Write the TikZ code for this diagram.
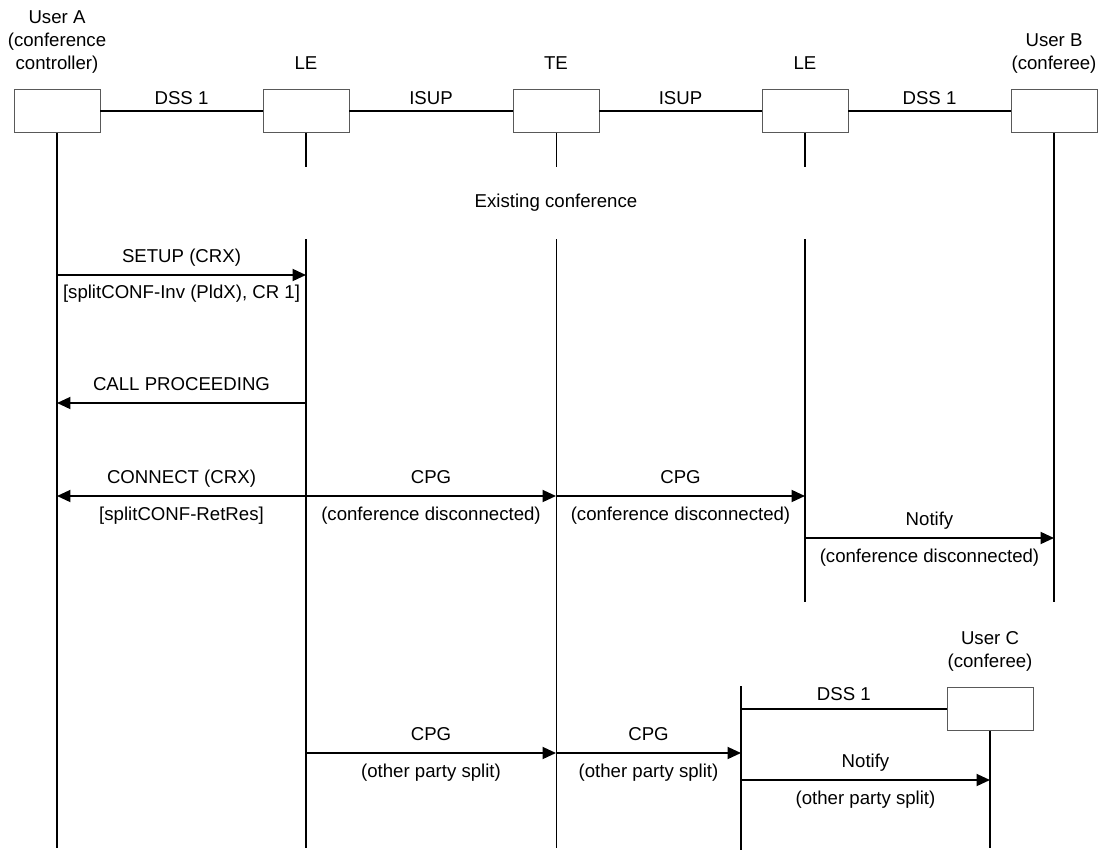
\documentclass[tikz,border=0pt]{standalone}
\usepackage{fontspec}
\setmainfont{Liberation Sans}
\usetikzlibrary{arrows.meta, positioning, calc}

\begin{document}
\begin{tikzpicture}[
    x=0.02cm, y=-0.02cm,
    >={Triangle[length=0.27cm, width=0.24cm]},
    font=\fontsize{10.6}{13}\selectfont
]

% ---------------------------------------------------------
% Styles
% ---------------------------------------------------------
\tikzset{
    party_box/.style={
        rectangle, draw=black!65, line width=0.5pt, fill=white,
        minimum width=1.72cm, minimum height=0.86cm
    },
    party_label/.style={anchor=south, inner sep=0pt, text depth=0pt, align=center},
    link/.style={line width=1.1pt},
    link_label/.style={midway, anchor=base, inner sep=0pt, yshift=#1},
    link_label/.default=0.14cm,
    lifeline/.style={line width=1.1pt},
    thin_lifeline/.style={line width=0.55pt},
    msg/.style={->, line width=1.1pt},
    msg_top/.style={midway, anchor=base, inner sep=0pt, yshift=0.25cm},
    msg_bot/.style={midway, anchor=base, inner sep=0pt, yshift=-0.48cm}
}

\useasboundingbox (0,0) rectangle (1102,855);

% ---------------------------------------------------------
% Parties
% ---------------------------------------------------------
\node[party_box] (UserA) at (57, 111) {};
\node[party_box] (LEa)   at (306, 111) {};
\node[party_box] (TE)    at (556, 111) {};
\node[party_box] (LEb)   at (805, 111) {};
\node[party_box] (UserB) at (1054, 111) {};

\node[party_label, above=0.39cm of UserA] {User A\\(conference\\controller)};
\node[party_label, above=0.39cm of LEa]   {LE};
\node[party_label, above=0.39cm of TE]    {TE};
\node[party_label, above=0.39cm of LEb]   {LE};
\node[party_label, above=0.39cm of UserB] {User B\\(conferee)};

\draw[link] (UserA) -- (LEa) node[link_label] {DSS 1};
\draw[link] (LEa) -- (TE)    node[link_label] {ISUP};
\draw[link] (TE) -- (LEb)    node[link_label] {ISUP};
\draw[link] (LEb) -- (UserB) node[link_label] {DSS 1};

% ---------------------------------------------------------
% Lifelines
% ---------------------------------------------------------
\coordinate (GapTop) at (0, 167);
\coordinate (GapBot) at (0, 239);
\coordinate (EndB)   at (0, 602);
\coordinate (EndAll) at (0, 848);

\draw[lifeline] (UserA.south) -- (UserA |- EndAll);
\draw[lifeline] (LEa.south) -- (LEa |- GapTop);
\draw[lifeline] (LEa |- GapBot) -- (LEa |- EndAll);
\draw[thin_lifeline] (TE.south) -- (TE |- GapTop);
\draw[thin_lifeline] (TE |- GapBot) -- (TE |- EndAll);
\draw[lifeline] (LEb.south) -- (LEb |- GapTop);
\draw[lifeline] (LEb |- GapBot) -- (LEb |- EndB);
\draw[lifeline] (UserB.south) -- (UserB |- EndB);

\node[anchor=base] (Existing) at (556, 207) {Existing conference};

% ---------------------------------------------------------
% Messages
% ---------------------------------------------------------
\coordinate (RowSetup) at (0, 275);
\coordinate (RowProc)  at (0, 403);
\coordinate (RowConn)  at (0, 496);
\coordinate (RowNotB)  at (0, 538);

\draw[msg] (UserA |- RowSetup) -- (LEa |- RowSetup)
    node[msg_top] {SETUP (CRX)}
    node[msg_bot] {[splitCONF-Inv (PldX), CR 1]};

\draw[msg] (LEa |- RowProc) -- (UserA |- RowProc)
    node[msg_top] {CALL PROCEEDING};

\draw[msg] (LEa |- RowConn) -- (UserA |- RowConn)
    node[msg_top] {CONNECT (CRX)}
    node[msg_bot] {[splitCONF-RetRes]};
\draw[msg] (LEa |- RowConn) -- (TE |- RowConn)
    node[msg_top] {CPG}
    node[msg_bot] {(conference disconnected)};
\draw[msg] (TE |- RowConn) -- (LEb |- RowConn)
    node[msg_top] {CPG}
    node[msg_bot] {(conference disconnected)};
\draw[msg] (LEb |- RowNotB) -- (UserB |- RowNotB)
    node[msg_top] {Notify}
    node[msg_bot] {(conference disconnected)};

% ---------------------------------------------------------
% User C joins
% ---------------------------------------------------------
\node[party_box] (UserC) at (990, 709) {};
\node[party_label, above=0.39cm of UserC] {User C\\(conferee)};

\coordinate (LEcTop) at (741, 686);
\coordinate (LEcEnd) at (741, 850);
\draw[lifeline] (LEcTop) -- (LEcEnd);
\draw[lifeline] (UserC.south) -- (UserC |- EndAll);

\draw[link] (LEcTop |- UserC) -- (UserC) node[link_label=0.18cm] {DSS 1};

\coordinate (RowSplit) at (0, 753);
\coordinate (RowNotC)  at (0, 780);

\draw[msg] (LEa |- RowSplit) -- (TE |- RowSplit)
    node[msg_top] {CPG}
    node[msg_bot] {(other party split)};
\draw[msg] (TE |- RowSplit) -- (LEcTop |- RowSplit)
    node[msg_top] {CPG}
    node[msg_bot] {(other party split)};
\draw[msg] (LEcTop |- RowNotC) -- (UserC |- RowNotC)
    node[msg_top] {Notify}
    node[msg_bot] {(other party split)};

\end{tikzpicture}
\end{document}
